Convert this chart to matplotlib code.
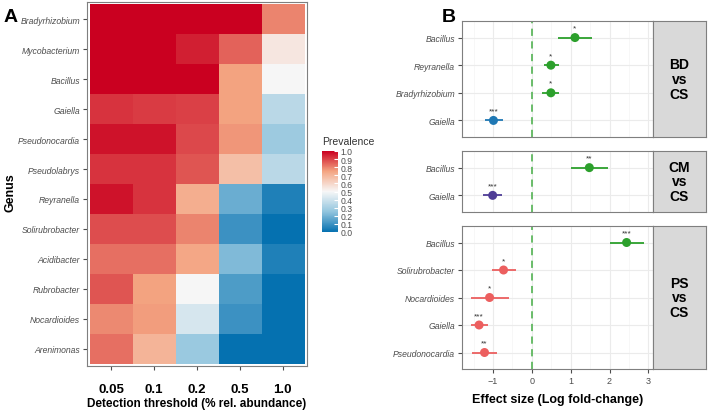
import matplotlib
matplotlib.use("Agg")
import matplotlib.pyplot as plt
import numpy as np
from matplotlib.colors import LinearSegmentedColormap

plt.rcParams['font.family'] = ['Liberation Sans', 'DejaVu Sans']

# ---- panel A data ----
genera = ['Bradyrhizobium', 'Mycobacterium', 'Bacillus', 'Gaiella', 'Pseudonocardia',
          'Pseudolabrys', 'Reyranella', 'Solirubrobacter', 'Acidibacter', 'Rubrobacter',
          'Nocardioides', 'Arenimonas']
thresholds = ['0.05', '0.1', '0.2', '0.5', '1.0']
prevalence = [
    [1.00, 1.00, 1.00, 1.00, 0.80],
    [1.00, 1.00, 0.95, 0.85, 0.55],
    [1.00, 1.00, 1.00, 0.75, 0.50],
    [0.92, 0.91, 0.90, 0.75, 0.35],
    [0.97, 0.97, 0.89, 0.77, 0.28],
    [0.92, 0.92, 0.87, 0.67, 0.35],
    [0.97, 0.92, 0.72, 0.18, 0.05],
    [0.88, 0.88, 0.80, 0.10, 0.00],
    [0.83, 0.83, 0.74, 0.22, 0.05],
    [0.87, 0.75, 0.50, 0.13, 0.00],
    [0.79, 0.76, 0.42, 0.10, 0.00],
    [0.83, 0.70, 0.27, 0.00, 0.00],
]

# ---- panel B data ----
comparisons = ['BD\nvs\nCS', 'CM\nvs\nCS', 'PS\nvs\nCS']
bd_genus = ['Bacillus', 'Reyranella', 'Bradyrhizobium', 'Gaiella']
bd_est = [1.11, 0.49, 0.49, -0.99]
bd_lo = [0.67, 0.31, 0.26, -1.20]
bd_hi = [1.56, 0.69, 0.70, -0.75]
bd_sig = ['*', '*', '*', '***']
bd_col = ['#2ca02c', '#2ca02c', '#2ca02c', '#1f78b4']

cm_genus = ['Bacillus', 'Gaiella']
cm_est = [1.48, -1.01]
cm_lo = [1.02, -1.25]
cm_hi = [1.96, -0.76]
cm_sig = ['**', '***']
cm_col = ['#2ca02c', '#4f3d96']

ps_genus = ['Bacillus', 'Solirubrobacter', 'Nocardioides', 'Gaiella', 'Pseudonocardia']
ps_est = [2.44, -0.73, -1.09, -1.36, -1.22]
ps_lo = [2.00, -1.03, -1.58, -1.57, -1.53]
ps_hi = [2.89, -0.41, -0.60, -1.14, -0.90]
ps_sig = ['***', '*', '*', '***', '**']
ps_col = ['#2ca02c', '#ec5f5f', '#ec5f5f', '#ec5f5f', '#ec5f5f']

W, H = 709, 414
fig = plt.figure(figsize=(W / 100, H / 100), dpi=100)

def px_axes(x0, y0, x1, y1):
    return fig.add_axes([x0 / W, 1 - y1 / H, (x1 - x0) / W, (y1 - y0) / H])

grey_txt = '#4d4d4d'
frame_col = '#7f7f7f'

# ---- A: heatmap ----
cmap = LinearSegmentedColormap.from_list(
    'rdbu5', ['#0571b0', '#92c5de', '#f7f7f7', '#f4a582', '#ca0020'])
ax = px_axes(87, 3, 307, 367)
im = ax.imshow(np.array(prevalence), cmap=cmap, vmin=0, vmax=1, aspect='auto')
ax.set_xlim(-0.57, len(thresholds) - 0.43)
ax.set_ylim(len(genera) - 0.43, -0.57)
ax.set_xticks(range(len(thresholds)))
ax.set_xticklabels(thresholds, fontsize=9.5, fontweight='bold', color='black')
ax.set_yticks(range(len(genera)))
ax.set_yticklabels(genera, fontsize=6.2, style='italic', color=grey_txt)
ax.tick_params(length=3, color=grey_txt, pad=2)
ax.tick_params(axis='x', pad=9)
for s in ax.spines.values():
    s.set_color(frame_col)
ax.set_xlabel('Detection threshold (% rel. abundance)', fontsize=8.5, fontweight='bold')
ax.xaxis.set_label_coords(0.5, -0.085)
ax.set_ylabel('Genus', fontsize=9, fontweight='bold')
ax.yaxis.set_label_coords(-0.32, 0.48)

cax = px_axes(322, 152, 338, 233)
cb = fig.colorbar(im, cax=cax)
cb.set_ticks(np.arange(0, 1.01, 0.1))
cb.set_ticklabels(['%.1f' % v for v in np.arange(0, 1.01, 0.1)])
cb.ax.tick_params(labelsize=6.2, length=3, color='white', direction='in', pad=2, labelcolor=grey_txt)
cb.outline.set_visible(False)
fig.text(322 / W, 1 - 142 / H, 'Prevalence', fontsize=7.5, color='#333333', va='center')

fig.text(4 / W, 1 - 18 / H, 'A', fontsize=14, fontweight='bold', va='center')
fig.text(442 / W, 1 - 18 / H, 'B', fontsize=14, fontweight='bold', va='center')

# ---- B: forest plot ----
panels = [
    (bd_genus, bd_est, bd_lo, bd_hi, bd_sig, bd_col, 22, 138),
    (cm_genus, cm_est, cm_lo, cm_hi, cm_sig, cm_col, 152, 213),
    (ps_genus, ps_est, ps_lo, ps_hi, ps_sig, ps_col, 227, 370),
]
for k, (gen, est, lo, hi, sig, col, y0, y1) in enumerate(panels):
    a = px_axes(462, y0, 653, y1)
    n = len(gen)
    ypos = np.arange(n)
    a.set_xlim(-1.8, 3.12)
    a.set_ylim(n - 1 + 0.6, -0.6)
    a.set_xticks([-1, 0, 1, 2, 3])
    a.set_xticks([-1.5, -0.5, 0.5, 1.5, 2.5], minor=True)
    a.grid(True, which='major', color='#ebebeb', linewidth=0.8)
    a.grid(True, which='minor', axis='x', color='#f4f4f4', linewidth=0.5)
    a.set_axisbelow(True)
    a.axvline(0, color='#5fb85f', linestyle=(0, (4, 3)), linewidth=1.3, zorder=1)
    a.hlines(ypos, lo, hi, colors=col, linewidth=1.3, zorder=2)
    a.scatter(est, ypos, s=42, c=col, zorder=3, edgecolors='none')
    for x, y, s in zip(est, ypos, sig):
        a.text(x, y - 0.22, s, ha='center', va='bottom', fontsize=6, color='#333333')
    a.set_yticks(ypos)
    a.set_yticklabels(gen, fontsize=6.2, style='italic', color=grey_txt)
    a.tick_params(length=3, color=grey_txt, pad=2, labelsize=6.2, labelcolor=grey_txt)
    a.tick_params(which='minor', length=0)
    for s in a.spines.values():
        s.set_color(frame_col)
    if k < 2:
        a.tick_params(axis='x', labelbottom=False, length=0)
    else:
        a.tick_params(axis='x', labelsize=6.5)
        a.set_xlabel('Effect size (Log fold-change)', fontsize=9, fontweight='bold', labelpad=6)
    st = px_axes(653, y0, 706, y1)
    st.set_facecolor('#d9d9d9')
    st.set_xticks([])
    st.set_yticks([])
    for s in st.spines.values():
        s.set_color(frame_col)
    st.text(0.5, 0.5, comparisons[k], ha='center', va='center', fontsize=10,
            fontweight='bold', linespacing=1.08, transform=st.transAxes)

fig.savefig('out.png', dpi=100)
